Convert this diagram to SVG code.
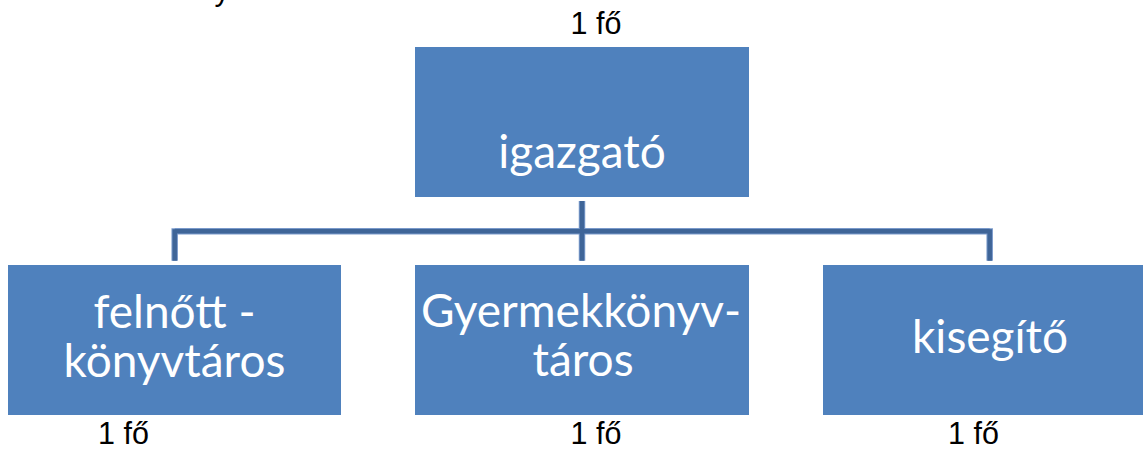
<svg xmlns="http://www.w3.org/2000/svg" width="1143" height="450" viewBox="0 0 1143 450">
  <style>
    .box { fill: #4f81bd; }
    .name { font-family: Lato, "Open Sans", sans-serif; font-size: 46px; fill: #ffffff; text-anchor: middle; }
    .count { font-family: "Liberation Sans", Arial, sans-serif; font-size: 30.5px; fill: #000000; text-anchor: middle; }
    .halo { fill: none; stroke: #7a9acb; stroke-width: 6.5; stroke-linecap: butt; }
    .core { fill: none; stroke: #3f6598; stroke-width: 4.5; stroke-linecap: butt; }
  </style>

  <!-- tail of a line that runs past the top edge -->
  <text class="count" x="222" y="0">y</text>

  <!-- org chart connectors -->
  <g id="connectors">
    <path class="halo" d="M582 201 V260.7 M174.7 231.3 H989.7 M174.7 228.3 V260.7 M989.7 228.3 V260.7"/>
    <path class="core" d="M582 201 V260.7 M174.7 231.3 H989.7 M174.7 229.2 V260.7 M989.7 229.2 V260.7"/>
  </g>

  <g id="igazgato">
    <text class="count" x="596" y="34">1 fő</text>
    <rect class="box" x="415" y="47" width="334" height="150"/>
    <text class="name" x="582" y="168">igazgató</text>
  </g>

  <g id="felnott-konyvtaros">
    <rect class="box" x="8" y="265" width="333" height="150"/>
    <text class="name" x="174.5" y="327.7">felnőtt -</text>
    <text class="name" x="174.5" y="376.7">könyvtáros</text>
    <text class="count" x="123.5" y="443.5">1 fő</text>
  </g>

  <g id="gyermekkonyvtaros">
    <rect class="box" x="415" y="265" width="334" height="150"/>
    <text class="name" x="581" y="326.7">Gyermekkönyv-</text>
    <text class="name" x="583" y="376">táros</text>
    <text class="count" x="596" y="443.5">1 fő</text>
  </g>

  <g id="kisegito">
    <rect class="box" x="823" y="265" width="334" height="150"/>
    <text class="name" x="990" y="353.3">kisegítő</text>
    <text class="count" x="973.5" y="443.5">1 fő</text>
  </g>
</svg>
